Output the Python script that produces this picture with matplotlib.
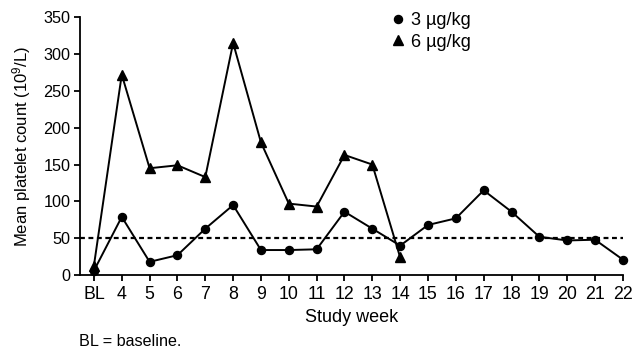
import matplotlib
matplotlib.use("Agg")
import matplotlib.pyplot as plt
from matplotlib.lines import Line2D

plt.rcParams['font.family'] = ['Liberation Sans', 'DejaVu Sans']
plt.rcParams['mathtext.fontset'] = 'custom'
plt.rcParams['mathtext.rm'] = 'Liberation Sans'
plt.rcParams['mathtext.default'] = 'regular'

weeks = ['BL', '4', '5', '6', '7', '8', '9', '10', '11', '12', '13', '14',
         '15', '16', '17', '18', '19', '20', '21', '22']
dose3 = [6, 79, 18, 27, 63, 95, 34, 34, 35, 86, 63, 40,
         68, 77, 115, 86, 52, 47, 48, 21]
dose6 = [13, 272, 145, 149, 133, 315, 180, 97, 93, 163, 150, 24]
threshold = 50

fig = plt.figure(figsize=(6.33, 3.5), dpi=100)
ax = fig.add_axes([0.1264, 0.214, 0.8576, 0.737])

x3 = list(range(len(dose3)))
x6 = list(range(len(dose6)))

ax.axhline(threshold, color='black', lw=1.6, ls=(0, (2.2, 1.6)), zorder=1)
ax.plot(x3, dose3, color='black', lw=1.4, marker='o', ms=5.8, clip_on=False, zorder=3)
ax.plot(x6, dose6, color='black', lw=1.4, marker='^', ms=6.8, clip_on=False, zorder=3)

ax.set_xlim(-0.5, 19.0)
ax.set_ylim(0, 350)
ax.set_xticks(range(len(weeks)))
ax.set_xticklabels(weeks)
ax.set_yticks(range(0, 351, 50))
ax.spines['top'].set_visible(False)
ax.spines['right'].set_visible(False)
for s in ['left', 'bottom']:
    ax.spines[s].set_linewidth(1.3)
ax.tick_params(axis='both', direction='out', length=4, width=1.3, colors='black')
ax.tick_params(axis='y', labelsize=11.7, pad=3)
ax.tick_params(axis='x', labelsize=12.8, pad=4)

ax.set_xlabel('Study week', fontsize=13, labelpad=4)
ax.set_ylabel('Mean platelet count (10$^{9}$/L)', fontsize=12, labelpad=7)

handles = [Line2D([], [], color='black', marker='o', ls='none', ms=5.8),
           Line2D([], [], color='black', marker='^', ls='none', ms=6.8)]
leg = ax.legend(handles, ['3 µg/kg', '6 µg/kg'], loc='upper left',
                bbox_to_anchor=(393 / 633, 1 - 12 / 350), bbox_transform=fig.transFigure,
                frameon=False, fontsize=13, handlelength=0.6, handletextpad=0.4,
                borderpad=0, borderaxespad=0, labelspacing=0.25)

fig.text(79 / 633, 1 - 341 / 350, 'BL = baseline.', fontsize=11.6, va='center', ha='left')

fig.savefig('out.png', dpi=100)
